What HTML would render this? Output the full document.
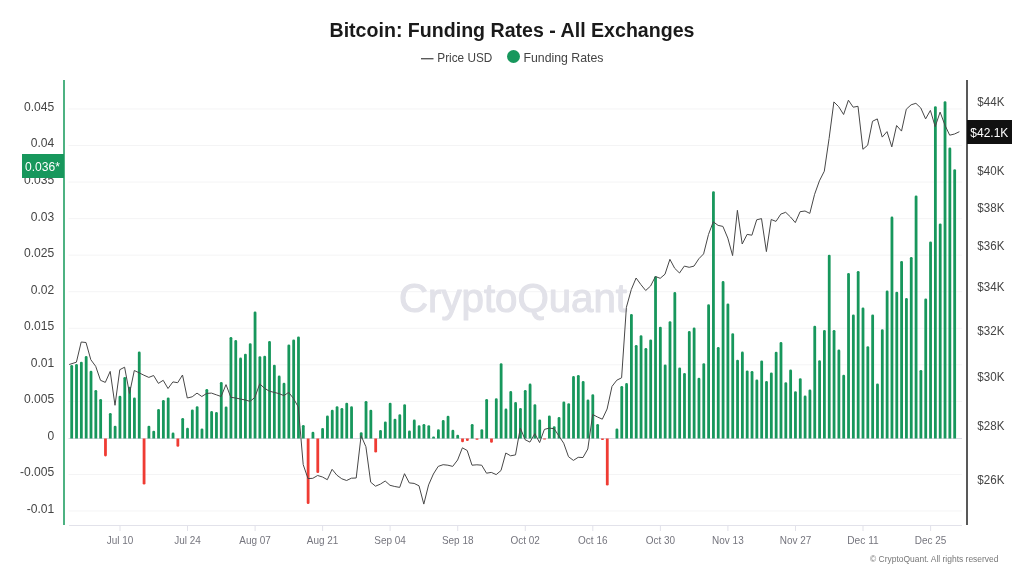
<!DOCTYPE html>
<html><head><meta charset="utf-8"><style>
html,body{margin:0;padding:0;background:#fff;width:1024px;height:576px;overflow:hidden}
svg{display:block;will-change:transform}
</style></head><body>
<svg width="1024" height="576" viewBox="0 0 1024 576">
<line x1="68.5" y1="108.99" x2="962" y2="108.99" stroke="#f4f4f5" stroke-width="1"/>
<line x1="68.5" y1="145.54" x2="962" y2="145.54" stroke="#f4f4f5" stroke-width="1"/>
<line x1="68.5" y1="182.08" x2="962" y2="182.08" stroke="#f4f4f5" stroke-width="1"/>
<line x1="68.5" y1="218.63" x2="962" y2="218.63" stroke="#f4f4f5" stroke-width="1"/>
<line x1="68.5" y1="255.17" x2="962" y2="255.17" stroke="#f4f4f5" stroke-width="1"/>
<line x1="68.5" y1="291.72" x2="962" y2="291.72" stroke="#f4f4f5" stroke-width="1"/>
<line x1="68.5" y1="328.26" x2="962" y2="328.26" stroke="#f4f4f5" stroke-width="1"/>
<line x1="68.5" y1="364.81" x2="962" y2="364.81" stroke="#f4f4f5" stroke-width="1"/>
<line x1="68.5" y1="401.35" x2="962" y2="401.35" stroke="#f4f4f5" stroke-width="1"/>
<line x1="68.5" y1="474.44" x2="962" y2="474.44" stroke="#f4f4f5" stroke-width="1"/>
<line x1="68.5" y1="510.99" x2="962" y2="510.99" stroke="#f4f4f5" stroke-width="1"/>
<text x="399" y="312.3" font-size="40" fill="#e2e2e9" stroke="#e2e2e9" stroke-width="1.1" stroke-linejoin="round" textLength="228" lengthAdjust="spacingAndGlyphs" style="font-family:'Liberation Sans',sans-serif">CryptoQuant</text>
<line x1="68.5" y1="438.5" x2="962" y2="438.5" stroke="#d9d9e3" stroke-width="1"/>
<path d="M70.30 438.50V366.20Q70.30 364.90 71.60 364.90H71.80Q73.10 364.90 73.10 366.20V438.50Z" fill="#17975c"/>
<path d="M75.12 438.50V365.30Q75.12 364.00 76.42 364.00H76.62Q77.92 364.00 77.92 365.30V438.50Z" fill="#17975c"/>
<path d="M79.95 438.50V363.10Q79.95 361.80 81.25 361.80H81.45Q82.75 361.80 82.75 363.10V438.50Z" fill="#17975c"/>
<path d="M84.78 438.50V357.40Q84.78 356.10 86.08 356.10H86.28Q87.58 356.10 87.58 357.40V438.50Z" fill="#17975c"/>
<path d="M89.60 438.50V372.10Q89.60 370.80 90.90 370.80H91.10Q92.40 370.80 92.40 372.10V438.50Z" fill="#17975c"/>
<path d="M94.42 438.50V391.20Q94.42 389.90 95.72 389.90H95.92Q97.22 389.90 97.22 391.20V438.50Z" fill="#17975c"/>
<path d="M99.25 438.50V400.30Q99.25 399.00 100.55 399.00H100.75Q102.05 399.00 102.05 400.30V438.50Z" fill="#17975c"/>
<path d="M104.07 438.50V455.10Q104.07 456.40 105.37 456.40H105.57Q106.87 456.40 106.87 455.10V438.50Z" fill="#ef3b33"/>
<path d="M108.90 438.50V414.30Q108.90 413.00 110.20 413.00H110.40Q111.70 413.00 111.70 414.30V438.50Z" fill="#17975c"/>
<path d="M113.72 438.50V427.10Q113.72 425.80 115.02 425.80H115.22Q116.52 425.80 116.52 427.10V438.50Z" fill="#17975c"/>
<path d="M118.55 438.50V397.00Q118.55 395.70 119.85 395.70H120.05Q121.35 395.70 121.35 397.00V438.50Z" fill="#17975c"/>
<path d="M123.38 438.50V378.30Q123.38 377.00 124.67 377.00H124.88Q126.17 377.00 126.17 378.30V438.50Z" fill="#17975c"/>
<path d="M128.20 438.50V388.10Q128.20 386.80 129.50 386.80H129.70Q131.00 386.80 131.00 388.10V438.50Z" fill="#17975c"/>
<path d="M133.03 438.50V398.80Q133.03 397.50 134.33 397.50H134.53Q135.83 397.50 135.83 398.80V438.50Z" fill="#17975c"/>
<path d="M137.85 438.50V352.80Q137.85 351.50 139.15 351.50H139.35Q140.65 351.50 140.65 352.80V438.50Z" fill="#17975c"/>
<path d="M142.67 438.50V483.30Q142.67 484.60 143.97 484.60H144.17Q145.47 484.60 145.47 483.30V438.50Z" fill="#ef3b33"/>
<path d="M147.50 438.50V427.10Q147.50 425.80 148.80 425.80H149.00Q150.30 425.80 150.30 427.10V438.50Z" fill="#17975c"/>
<path d="M152.33 438.50V432.10Q152.33 430.80 153.63 430.80H153.83Q155.13 430.80 155.13 432.10V438.50Z" fill="#17975c"/>
<path d="M157.15 438.50V410.30Q157.15 409.00 158.45 409.00H158.65Q159.95 409.00 159.95 410.30V438.50Z" fill="#17975c"/>
<path d="M161.97 438.50V401.20Q161.97 399.90 163.28 399.90H163.47Q164.78 399.90 164.78 401.20V438.50Z" fill="#17975c"/>
<path d="M166.80 438.50V398.80Q166.80 397.50 168.10 397.50H168.30Q169.60 397.50 169.60 398.80V438.50Z" fill="#17975c"/>
<path d="M171.62 438.50V433.90Q171.62 432.60 172.93 432.60H173.12Q174.43 432.60 174.43 433.90V438.50Z" fill="#17975c"/>
<path d="M176.45 438.50V445.40Q176.45 446.70 177.75 446.70H177.95Q179.25 446.70 179.25 445.40V438.50Z" fill="#ef3b33"/>
<path d="M181.28 438.50V419.20Q181.28 417.90 182.58 417.90H182.78Q184.08 417.90 184.08 419.20V438.50Z" fill="#17975c"/>
<path d="M186.10 438.50V429.00Q186.10 427.70 187.40 427.70H187.60Q188.90 427.70 188.90 429.00V438.50Z" fill="#17975c"/>
<path d="M190.92 438.50V410.70Q190.92 409.40 192.22 409.40H192.42Q193.72 409.40 193.72 410.70V438.50Z" fill="#17975c"/>
<path d="M195.75 438.50V407.60Q195.75 406.30 197.05 406.30H197.25Q198.55 406.30 198.55 407.60V438.50Z" fill="#17975c"/>
<path d="M200.58 438.50V429.70Q200.58 428.40 201.88 428.40H202.08Q203.38 428.40 203.38 429.70V438.50Z" fill="#17975c"/>
<path d="M205.40 438.50V390.30Q205.40 389.00 206.70 389.00H206.90Q208.20 389.00 208.20 390.30V438.50Z" fill="#17975c"/>
<path d="M210.22 438.50V412.40Q210.22 411.10 211.53 411.10H211.72Q213.03 411.10 213.03 412.40V438.50Z" fill="#17975c"/>
<path d="M215.05 438.50V413.20Q215.05 411.90 216.35 411.90H216.55Q217.85 411.90 217.85 413.20V438.50Z" fill="#17975c"/>
<path d="M219.88 438.50V383.20Q219.88 381.90 221.18 381.90H221.38Q222.68 381.90 222.68 383.20V438.50Z" fill="#17975c"/>
<path d="M224.70 438.50V407.80Q224.70 406.50 226.00 406.50H226.20Q227.50 406.50 227.50 407.80V438.50Z" fill="#17975c"/>
<path d="M229.53 438.50V338.30Q229.53 337.00 230.83 337.00H231.03Q232.33 337.00 232.33 338.30V438.50Z" fill="#17975c"/>
<path d="M234.35 438.50V341.40Q234.35 340.10 235.65 340.10H235.85Q237.15 340.10 237.15 341.40V438.50Z" fill="#17975c"/>
<path d="M239.17 438.50V358.90Q239.17 357.60 240.47 357.60H240.67Q241.97 357.60 241.97 358.90V438.50Z" fill="#17975c"/>
<path d="M244.00 438.50V355.00Q244.00 353.70 245.30 353.70H245.50Q246.80 353.70 246.80 355.00V438.50Z" fill="#17975c"/>
<path d="M248.83 438.50V344.60Q248.83 343.30 250.13 343.30H250.33Q251.63 343.30 251.63 344.60V438.50Z" fill="#17975c"/>
<path d="M253.65 438.50V312.70Q253.65 311.40 254.95 311.40H255.15Q256.45 311.40 256.45 312.70V438.50Z" fill="#17975c"/>
<path d="M258.48 438.50V357.50Q258.48 356.20 259.78 356.20H259.98Q261.28 356.20 261.28 357.50V438.50Z" fill="#17975c"/>
<path d="M263.30 438.50V357.00Q263.30 355.70 264.60 355.70H264.80Q266.10 355.70 266.10 357.00V438.50Z" fill="#17975c"/>
<path d="M268.13 438.50V342.20Q268.13 340.90 269.43 340.90H269.63Q270.93 340.90 270.93 342.20V438.50Z" fill="#17975c"/>
<path d="M272.95 438.50V366.00Q272.95 364.70 274.25 364.70H274.45Q275.75 364.70 275.75 366.00V438.50Z" fill="#17975c"/>
<path d="M277.78 438.50V376.90Q277.78 375.60 279.08 375.60H279.28Q280.58 375.60 280.58 376.90V438.50Z" fill="#17975c"/>
<path d="M282.60 438.50V384.00Q282.60 382.70 283.90 382.70H284.10Q285.40 382.70 285.40 384.00V438.50Z" fill="#17975c"/>
<path d="M287.43 438.50V345.80Q287.43 344.50 288.73 344.50H288.93Q290.23 344.50 290.23 345.80V438.50Z" fill="#17975c"/>
<path d="M292.25 438.50V340.70Q292.25 339.40 293.55 339.40H293.75Q295.05 339.40 295.05 340.70V438.50Z" fill="#17975c"/>
<path d="M297.08 438.50V337.80Q297.08 336.50 298.38 336.50H298.58Q299.88 336.50 299.88 337.80V438.50Z" fill="#17975c"/>
<path d="M301.90 438.50V426.30Q301.90 425.00 303.20 425.00H303.40Q304.70 425.00 304.70 426.30V438.50Z" fill="#17975c"/>
<path d="M306.73 438.50V502.80Q306.73 504.10 308.03 504.10H308.23Q309.53 504.10 309.53 502.80V438.50Z" fill="#ef3b33"/>
<path d="M311.55 438.50V433.00Q311.55 431.70 312.85 431.70H313.05Q314.35 431.70 314.35 433.00V438.50Z" fill="#17975c"/>
<path d="M316.38 438.50V471.70Q316.38 473.00 317.68 473.00H317.88Q319.18 473.00 319.18 471.70V438.50Z" fill="#ef3b33"/>
<path d="M321.20 438.50V429.40Q321.20 428.10 322.50 428.10H322.70Q324.00 428.10 324.00 429.40V438.50Z" fill="#17975c"/>
<path d="M326.03 438.50V416.70Q326.03 415.40 327.33 415.40H327.53Q328.83 415.40 328.83 416.70V438.50Z" fill="#17975c"/>
<path d="M330.85 438.50V411.10Q330.85 409.80 332.15 409.80H332.35Q333.65 409.80 333.65 411.10V438.50Z" fill="#17975c"/>
<path d="M335.68 438.50V407.50Q335.68 406.20 336.98 406.20H337.18Q338.48 406.20 338.48 407.50V438.50Z" fill="#17975c"/>
<path d="M340.50 438.50V409.20Q340.50 407.90 341.80 407.90H342.00Q343.30 407.90 343.30 409.20V438.50Z" fill="#17975c"/>
<path d="M345.33 438.50V404.10Q345.33 402.80 346.63 402.80H346.83Q348.13 402.80 348.13 404.10V438.50Z" fill="#17975c"/>
<path d="M350.15 438.50V407.50Q350.15 406.20 351.45 406.20H351.65Q352.95 406.20 352.95 407.50V438.50Z" fill="#17975c"/>
<path d="M359.80 438.50V433.50Q359.80 432.20 361.10 432.20H361.30Q362.60 432.20 362.60 433.50V438.50Z" fill="#17975c"/>
<path d="M364.62 438.50V402.20Q364.62 400.90 365.93 400.90H366.12Q367.43 400.90 367.43 402.20V438.50Z" fill="#17975c"/>
<path d="M369.45 438.50V411.10Q369.45 409.80 370.75 409.80H370.95Q372.25 409.80 372.25 411.10V438.50Z" fill="#17975c"/>
<path d="M374.28 438.50V451.20Q374.28 452.50 375.58 452.50H375.78Q377.08 452.50 377.08 451.20V438.50Z" fill="#ef3b33"/>
<path d="M379.10 438.50V431.30Q379.10 430.00 380.40 430.00H380.60Q381.90 430.00 381.90 431.30V438.50Z" fill="#17975c"/>
<path d="M383.93 438.50V422.80Q383.93 421.50 385.23 421.50H385.43Q386.73 421.50 386.73 422.80V438.50Z" fill="#17975c"/>
<path d="M388.75 438.50V404.10Q388.75 402.80 390.05 402.80H390.25Q391.55 402.80 391.55 404.10V438.50Z" fill="#17975c"/>
<path d="M393.58 438.50V420.10Q393.58 418.80 394.88 418.80H395.08Q396.38 418.80 396.38 420.10V438.50Z" fill="#17975c"/>
<path d="M398.40 438.50V415.50Q398.40 414.20 399.70 414.20H399.90Q401.20 414.20 401.20 415.50V438.50Z" fill="#17975c"/>
<path d="M403.23 438.50V405.60Q403.23 404.30 404.53 404.30H404.73Q406.03 404.30 406.03 405.60V438.50Z" fill="#17975c"/>
<path d="M408.05 438.50V431.80Q408.05 430.50 409.35 430.50H409.55Q410.85 430.50 410.85 431.80V438.50Z" fill="#17975c"/>
<path d="M412.88 438.50V420.90Q412.88 419.60 414.18 419.60H414.38Q415.68 419.60 415.68 420.90V438.50Z" fill="#17975c"/>
<path d="M417.70 438.50V426.50Q417.70 425.20 419.00 425.20H419.20Q420.50 425.20 420.50 426.50V438.50Z" fill="#17975c"/>
<path d="M422.53 438.50V425.30Q422.53 424.00 423.83 424.00H424.03Q425.33 424.00 425.33 425.30V438.50Z" fill="#17975c"/>
<path d="M427.35 438.50V426.50Q427.35 425.20 428.65 425.20H428.85Q430.15 425.20 430.15 426.50V438.50Z" fill="#17975c"/>
<path d="M432.18 438.50V437.45Q432.18 436.40 433.23 436.40H433.93Q434.98 436.40 434.98 437.45V438.50Z" fill="#17975c"/>
<path d="M437.00 438.50V430.60Q437.00 429.30 438.30 429.30H438.50Q439.80 429.30 439.80 430.60V438.50Z" fill="#17975c"/>
<path d="M441.83 438.50V421.40Q441.83 420.10 443.13 420.10H443.33Q444.63 420.10 444.63 421.40V438.50Z" fill="#17975c"/>
<path d="M446.65 438.50V417.00Q446.65 415.70 447.95 415.70H448.15Q449.45 415.70 449.45 417.00V438.50Z" fill="#17975c"/>
<path d="M451.48 438.50V431.10Q451.48 429.80 452.78 429.80H452.98Q454.28 429.80 454.28 431.10V438.50Z" fill="#17975c"/>
<path d="M456.30 438.50V436.00Q456.30 434.70 457.60 434.70H457.80Q459.10 434.70 459.10 436.00V438.50Z" fill="#17975c"/>
<path d="M461.12 438.50V440.90Q461.12 442.20 462.43 442.20H462.62Q463.93 442.20 463.93 440.90V438.50Z" fill="#ef3b33"/>
<path d="M465.95 438.50V439.75Q465.95 441.00 467.20 441.00H467.50Q468.75 441.00 468.75 439.75V438.50Z" fill="#ef3b33"/>
<path d="M470.78 438.50V425.30Q470.78 424.00 472.08 424.00H472.28Q473.58 424.00 473.58 425.30V438.50Z" fill="#17975c"/>
<path d="M475.60 438.50V439.15Q475.60 439.80 476.25 439.80H477.75Q478.40 439.80 478.40 439.15V438.50Z" fill="#ef3b33"/>
<path d="M480.43 438.50V430.60Q480.43 429.30 481.73 429.30H481.93Q483.23 429.30 483.23 430.60V438.50Z" fill="#17975c"/>
<path d="M485.25 438.50V400.20Q485.25 398.90 486.55 398.90H486.75Q488.05 398.90 488.05 400.20V438.50Z" fill="#17975c"/>
<path d="M490.08 438.50V441.40Q490.08 442.70 491.38 442.70H491.58Q492.88 442.70 492.88 441.40V438.50Z" fill="#ef3b33"/>
<path d="M494.90 438.50V399.50Q494.90 398.20 496.20 398.20H496.40Q497.70 398.20 497.70 399.50V438.50Z" fill="#17975c"/>
<path d="M499.73 438.50V364.50Q499.73 363.20 501.03 363.20H501.23Q502.53 363.20 502.53 364.50V438.50Z" fill="#17975c"/>
<path d="M504.55 438.50V409.90Q504.55 408.60 505.85 408.60H506.05Q507.35 408.60 507.35 409.90V438.50Z" fill="#17975c"/>
<path d="M509.38 438.50V392.40Q509.38 391.10 510.68 391.10H510.87Q512.17 391.10 512.17 392.40V438.50Z" fill="#17975c"/>
<path d="M514.20 438.50V403.40Q514.20 402.10 515.50 402.10H515.70Q517.00 402.10 517.00 403.40V438.50Z" fill="#17975c"/>
<path d="M519.03 438.50V409.20Q519.03 407.90 520.33 407.90H520.53Q521.83 407.90 521.83 409.20V438.50Z" fill="#17975c"/>
<path d="M523.85 438.50V391.20Q523.85 389.90 525.15 389.90H525.35Q526.65 389.90 526.65 391.20V438.50Z" fill="#17975c"/>
<path d="M528.68 438.50V384.90Q528.68 383.60 529.98 383.60H530.18Q531.48 383.60 531.48 384.90V438.50Z" fill="#17975c"/>
<path d="M533.50 438.50V405.60Q533.50 404.30 534.80 404.30H535.00Q536.30 404.30 536.30 405.60V438.50Z" fill="#17975c"/>
<path d="M538.33 438.50V420.70Q538.33 419.40 539.62 419.40H539.83Q541.12 419.40 541.12 420.70V438.50Z" fill="#17975c"/>
<path d="M543.15 438.50V439.00Q543.15 439.50 543.65 439.50H545.45Q545.95 439.50 545.95 439.00V438.50Z" fill="#ef3b33"/>
<path d="M547.98 438.50V416.80Q547.98 415.50 549.27 415.50H549.48Q550.77 415.50 550.77 416.80V438.50Z" fill="#17975c"/>
<path d="M552.80 438.50V427.60Q552.80 426.30 554.10 426.30H554.30Q555.60 426.30 555.60 427.60V438.50Z" fill="#17975c"/>
<path d="M557.63 438.50V418.40Q557.63 417.10 558.93 417.10H559.13Q560.43 417.10 560.43 418.40V438.50Z" fill="#17975c"/>
<path d="M562.45 438.50V402.80Q562.45 401.50 563.75 401.50H563.95Q565.25 401.50 565.25 402.80V438.50Z" fill="#17975c"/>
<path d="M567.28 438.50V404.60Q567.28 403.30 568.58 403.30H568.78Q570.08 403.30 570.08 404.60V438.50Z" fill="#17975c"/>
<path d="M572.10 438.50V377.40Q572.10 376.10 573.40 376.10H573.60Q574.90 376.10 574.90 377.40V438.50Z" fill="#17975c"/>
<path d="M576.93 438.50V376.20Q576.93 374.90 578.23 374.90H578.43Q579.73 374.90 579.73 376.20V438.50Z" fill="#17975c"/>
<path d="M581.75 438.50V382.40Q581.75 381.10 583.05 381.10H583.25Q584.55 381.10 584.55 382.40V438.50Z" fill="#17975c"/>
<path d="M586.58 438.50V400.90Q586.58 399.60 587.88 399.60H588.08Q589.38 399.60 589.38 400.90V438.50Z" fill="#17975c"/>
<path d="M591.40 438.50V395.60Q591.40 394.30 592.70 394.30H592.90Q594.20 394.30 594.20 395.60V438.50Z" fill="#17975c"/>
<path d="M596.23 438.50V425.30Q596.23 424.00 597.53 424.00H597.73Q599.03 424.00 599.03 425.30V438.50Z" fill="#17975c"/>
<path d="M601.05 438.50V439.25Q601.05 440.00 601.80 440.00H603.10Q603.85 440.00 603.85 439.25V438.50Z" fill="#ef3b33"/>
<path d="M605.88 438.50V484.30Q605.88 485.60 607.18 485.60H607.38Q608.68 485.60 608.68 484.30V438.50Z" fill="#ef3b33"/>
<path d="M615.53 438.50V429.70Q615.53 428.40 616.83 428.40H617.03Q618.33 428.40 618.33 429.70V438.50Z" fill="#17975c"/>
<path d="M620.35 438.50V387.30Q620.35 386.00 621.65 386.00H621.85Q623.15 386.00 623.15 387.30V438.50Z" fill="#17975c"/>
<path d="M625.18 438.50V384.40Q625.18 383.10 626.48 383.10H626.68Q627.98 383.10 627.98 384.40V438.50Z" fill="#17975c"/>
<path d="M630.00 438.50V315.20Q630.00 313.90 631.30 313.90H631.50Q632.80 313.90 632.80 315.20V438.50Z" fill="#17975c"/>
<path d="M634.83 438.50V346.30Q634.83 345.00 636.12 345.00H636.33Q637.62 345.00 637.62 346.30V438.50Z" fill="#17975c"/>
<path d="M639.65 438.50V336.60Q639.65 335.30 640.95 335.30H641.15Q642.45 335.30 642.45 336.60V438.50Z" fill="#17975c"/>
<path d="M644.48 438.50V349.20Q644.48 347.90 645.78 347.90H645.98Q647.28 347.90 647.28 349.20V438.50Z" fill="#17975c"/>
<path d="M649.30 438.50V340.70Q649.30 339.40 650.60 339.40H650.80Q652.10 339.40 652.10 340.70V438.50Z" fill="#17975c"/>
<path d="M654.13 438.50V277.60Q654.13 276.30 655.43 276.30H655.63Q656.93 276.30 656.93 277.60V438.50Z" fill="#17975c"/>
<path d="M658.95 438.50V328.00Q658.95 326.70 660.25 326.70H660.45Q661.75 326.70 661.75 328.00V438.50Z" fill="#17975c"/>
<path d="M663.78 438.50V365.70Q663.78 364.40 665.08 364.40H665.28Q666.58 364.40 666.58 365.70V438.50Z" fill="#17975c"/>
<path d="M668.60 438.50V322.50Q668.60 321.20 669.90 321.20H670.10Q671.40 321.20 671.40 322.50V438.50Z" fill="#17975c"/>
<path d="M673.43 438.50V293.40Q673.43 292.10 674.73 292.10H674.93Q676.23 292.10 676.23 293.40V438.50Z" fill="#17975c"/>
<path d="M678.25 438.50V368.70Q678.25 367.40 679.55 367.40H679.75Q681.05 367.40 681.05 368.70V438.50Z" fill="#17975c"/>
<path d="M683.08 438.50V374.30Q683.08 373.00 684.38 373.00H684.58Q685.88 373.00 685.88 374.30V438.50Z" fill="#17975c"/>
<path d="M687.90 438.50V332.40Q687.90 331.10 689.20 331.10H689.40Q690.70 331.10 690.70 332.40V438.50Z" fill="#17975c"/>
<path d="M692.73 438.50V328.80Q692.73 327.50 694.03 327.50H694.23Q695.53 327.50 695.53 328.80V438.50Z" fill="#17975c"/>
<path d="M697.55 438.50V379.10Q697.55 377.80 698.85 377.80H699.05Q700.35 377.80 700.35 379.10V438.50Z" fill="#17975c"/>
<path d="M702.38 438.50V364.50Q702.38 363.20 703.68 363.20H703.88Q705.18 363.20 705.18 364.50V438.50Z" fill="#17975c"/>
<path d="M707.20 438.50V305.50Q707.20 304.20 708.50 304.20H708.70Q710.00 304.20 710.00 305.50V438.50Z" fill="#17975c"/>
<path d="M712.03 438.50V192.50Q712.03 191.20 713.33 191.20H713.53Q714.83 191.20 714.83 192.50V438.50Z" fill="#17975c"/>
<path d="M716.85 438.50V348.20Q716.85 346.90 718.15 346.90H718.35Q719.65 346.90 719.65 348.20V438.50Z" fill="#17975c"/>
<path d="M721.68 438.50V282.40Q721.68 281.10 722.98 281.10H723.18Q724.48 281.10 724.48 282.40V438.50Z" fill="#17975c"/>
<path d="M726.50 438.50V304.70Q726.50 303.40 727.80 303.40H728.00Q729.30 303.40 729.30 304.70V438.50Z" fill="#17975c"/>
<path d="M731.33 438.50V334.60Q731.33 333.30 732.62 333.30H732.83Q734.12 333.30 734.12 334.60V438.50Z" fill="#17975c"/>
<path d="M736.15 438.50V361.10Q736.15 359.80 737.45 359.80H737.65Q738.95 359.80 738.95 361.10V438.50Z" fill="#17975c"/>
<path d="M740.98 438.50V352.90Q740.98 351.60 742.28 351.60H742.48Q743.78 351.60 743.78 352.90V438.50Z" fill="#17975c"/>
<path d="M745.80 438.50V371.80Q745.80 370.50 747.10 370.50H747.30Q748.60 370.50 748.60 371.80V438.50Z" fill="#17975c"/>
<path d="M750.63 438.50V372.30Q750.63 371.00 751.93 371.00H752.13Q753.43 371.00 753.43 372.30V438.50Z" fill="#17975c"/>
<path d="M755.45 438.50V380.80Q755.45 379.50 756.75 379.50H756.95Q758.25 379.50 758.25 380.80V438.50Z" fill="#17975c"/>
<path d="M760.28 438.50V361.80Q760.28 360.50 761.58 360.50H761.78Q763.08 360.50 763.08 361.80V438.50Z" fill="#17975c"/>
<path d="M765.10 438.50V382.30Q765.10 381.00 766.40 381.00H766.60Q767.90 381.00 767.90 382.30V438.50Z" fill="#17975c"/>
<path d="M769.93 438.50V373.80Q769.93 372.50 771.23 372.50H771.43Q772.73 372.50 772.73 373.80V438.50Z" fill="#17975c"/>
<path d="M774.75 438.50V353.10Q774.75 351.80 776.05 351.80H776.25Q777.55 351.80 777.55 353.10V438.50Z" fill="#17975c"/>
<path d="M779.58 438.50V343.40Q779.58 342.10 780.88 342.10H781.08Q782.38 342.10 782.38 343.40V438.50Z" fill="#17975c"/>
<path d="M784.40 438.50V383.50Q784.40 382.20 785.70 382.20H785.90Q787.20 382.20 787.20 383.50V438.50Z" fill="#17975c"/>
<path d="M789.23 438.50V370.80Q789.23 369.50 790.53 369.50H790.73Q792.03 369.50 792.03 370.80V438.50Z" fill="#17975c"/>
<path d="M794.05 438.50V392.50Q794.05 391.20 795.35 391.20H795.55Q796.85 391.20 796.85 392.50V438.50Z" fill="#17975c"/>
<path d="M798.88 438.50V379.60Q798.88 378.30 800.18 378.30H800.38Q801.68 378.30 801.68 379.60V438.50Z" fill="#17975c"/>
<path d="M803.70 438.50V396.90Q803.70 395.60 805.00 395.60H805.20Q806.50 395.60 806.50 396.90V438.50Z" fill="#17975c"/>
<path d="M808.53 438.50V390.80Q808.53 389.50 809.83 389.50H810.03Q811.33 389.50 811.33 390.80V438.50Z" fill="#17975c"/>
<path d="M813.35 438.50V327.00Q813.35 325.70 814.65 325.70H814.85Q816.15 325.70 816.15 327.00V438.50Z" fill="#17975c"/>
<path d="M818.18 438.50V361.60Q818.18 360.30 819.48 360.30H819.68Q820.98 360.30 820.98 361.60V438.50Z" fill="#17975c"/>
<path d="M823.00 438.50V331.20Q823.00 329.90 824.30 329.90H824.50Q825.80 329.90 825.80 331.20V438.50Z" fill="#17975c"/>
<path d="M827.83 438.50V256.00Q827.83 254.70 829.12 254.70H829.33Q830.62 254.70 830.62 256.00V438.50Z" fill="#17975c"/>
<path d="M832.65 438.50V331.20Q832.65 329.90 833.95 329.90H834.15Q835.45 329.90 835.45 331.20V438.50Z" fill="#17975c"/>
<path d="M837.48 438.50V350.70Q837.48 349.40 838.78 349.40H838.98Q840.28 349.40 840.28 350.70V438.50Z" fill="#17975c"/>
<path d="M842.30 438.50V376.00Q842.30 374.70 843.60 374.70H843.80Q845.10 374.70 845.10 376.00V438.50Z" fill="#17975c"/>
<path d="M847.13 438.50V274.30Q847.13 273.00 848.43 273.00H848.63Q849.93 273.00 849.93 274.30V438.50Z" fill="#17975c"/>
<path d="M851.95 438.50V315.80Q851.95 314.50 853.25 314.50H853.45Q854.75 314.50 854.75 315.80V438.50Z" fill="#17975c"/>
<path d="M856.78 438.50V272.30Q856.78 271.00 858.08 271.00H858.28Q859.58 271.00 859.58 272.30V438.50Z" fill="#17975c"/>
<path d="M861.60 438.50V308.70Q861.60 307.40 862.90 307.40H863.10Q864.40 307.40 864.40 308.70V438.50Z" fill="#17975c"/>
<path d="M866.43 438.50V347.50Q866.43 346.20 867.73 346.20H867.93Q869.23 346.20 869.23 347.50V438.50Z" fill="#17975c"/>
<path d="M871.25 438.50V315.80Q871.25 314.50 872.55 314.50H872.75Q874.05 314.50 874.05 315.80V438.50Z" fill="#17975c"/>
<path d="M876.08 438.50V384.70Q876.08 383.40 877.38 383.40H877.58Q878.88 383.40 878.88 384.70V438.50Z" fill="#17975c"/>
<path d="M880.90 438.50V330.60Q880.90 329.30 882.20 329.30H882.40Q883.70 329.30 883.70 330.60V438.50Z" fill="#17975c"/>
<path d="M885.73 438.50V291.80Q885.73 290.50 887.03 290.50H887.23Q888.53 290.50 888.53 291.80V438.50Z" fill="#17975c"/>
<path d="M890.55 438.50V217.90Q890.55 216.60 891.85 216.60H892.05Q893.35 216.60 893.35 217.90V438.50Z" fill="#17975c"/>
<path d="M895.38 438.50V293.00Q895.38 291.70 896.68 291.70H896.88Q898.18 291.70 898.18 293.00V438.50Z" fill="#17975c"/>
<path d="M900.20 438.50V262.20Q900.20 260.90 901.50 260.90H901.70Q903.00 260.90 903.00 262.20V438.50Z" fill="#17975c"/>
<path d="M905.03 438.50V299.30Q905.03 298.00 906.33 298.00H906.53Q907.83 298.00 907.83 299.30V438.50Z" fill="#17975c"/>
<path d="M909.85 438.50V258.30Q909.85 257.00 911.15 257.00H911.35Q912.65 257.00 912.65 258.30V438.50Z" fill="#17975c"/>
<path d="M914.68 438.50V196.80Q914.68 195.50 915.98 195.50H916.18Q917.48 195.50 917.48 196.80V438.50Z" fill="#17975c"/>
<path d="M919.50 438.50V371.30Q919.50 370.00 920.80 370.00H921.00Q922.30 370.00 922.30 371.30V438.50Z" fill="#17975c"/>
<path d="M924.33 438.50V299.70Q924.33 298.40 925.62 298.40H925.83Q927.12 298.40 927.12 299.70V438.50Z" fill="#17975c"/>
<path d="M929.15 438.50V242.80Q929.15 241.50 930.45 241.50H930.65Q931.95 241.50 931.95 242.80V438.50Z" fill="#17975c"/>
<path d="M933.98 438.50V107.60Q933.98 106.30 935.28 106.30H935.48Q936.78 106.30 936.78 107.60V438.50Z" fill="#17975c"/>
<path d="M938.80 438.50V224.80Q938.80 223.50 940.10 223.50H940.30Q941.60 223.50 941.60 224.80V438.50Z" fill="#17975c"/>
<path d="M943.63 438.50V102.60Q943.63 101.30 944.93 101.30H945.13Q946.43 101.30 946.43 102.60V438.50Z" fill="#17975c"/>
<path d="M948.45 438.50V148.80Q948.45 147.50 949.75 147.50H949.95Q951.25 147.50 951.25 148.80V438.50Z" fill="#17975c"/>
<path d="M953.28 438.50V170.60Q953.28 169.30 954.58 169.30H954.78Q956.08 169.30 956.08 170.60V438.50Z" fill="#17975c"/>
<polyline points="69.2,364.5 76.4,362.2 81.2,342.0 86.0,342.5 90.8,359.7 95.7,366.3 100.5,380.3 105.3,382.4 110.2,371.4 115.0,405.3 119.8,369.7 124.6,367.2 129.5,393.5 134.3,370.5 139.1,372.8 143.9,375.2 148.8,377.4 153.6,375.5 158.4,383.4 163.2,380.3 168.0,388.5 172.9,381.9 177.7,382.7 182.5,375.0 187.3,398.0 192.2,396.8 197.0,393.1 201.8,396.5 206.7,393.4 211.5,393.1 216.3,394.8 221.1,396.5 226.0,384.6 230.8,397.3 235.6,398.0 240.4,399.0 245.3,400.0 250.1,401.4 254.9,397.3 259.7,383.9 264.6,388.3 269.4,391.2 274.2,392.4 279.0,393.6 283.9,395.6 288.7,392.4 293.5,398.5 298.3,407.0 303.2,464.6 308.0,478.6 312.8,478.3 317.6,475.5 322.5,477.0 327.3,479.7 332.1,469.3 336.9,475.2 341.8,478.8 346.6,480.5 351.4,478.2 356.2,478.0 361.1,435.7 365.9,446.7 370.7,482.2 375.5,486.2 380.4,484.1 385.2,481.0 390.0,485.3 394.8,486.5 399.7,487.4 404.5,473.7 409.3,482.9 414.1,483.4 419.0,485.8 423.8,504.1 428.6,484.9 433.4,474.0 438.2,466.4 443.1,464.7 447.9,465.2 452.7,466.4 457.6,460.0 462.4,447.8 467.2,450.5 472.0,465.2 476.9,464.8 481.7,465.2 486.5,473.2 491.3,472.4 496.2,474.6 501.0,470.5 505.8,453.0 510.6,455.8 515.5,454.9 520.3,428.0 525.1,439.7 529.9,442.1 534.8,433.7 539.6,442.6 544.4,429.4 549.2,428.1 554.1,428.7 558.9,436.0 563.7,443.2 568.5,456.7 573.4,460.4 578.2,457.3 583.0,457.5 587.8,449.0 592.7,414.5 597.5,417.0 602.3,419.2 607.1,409.0 612.0,386.4 616.8,380.2 621.6,377.8 626.4,307.3 631.3,289.5 636.1,278.0 640.9,284.6 645.7,290.5 650.6,286.0 655.4,276.5 660.2,278.3 665.0,274.2 669.9,259.3 674.7,268.3 679.5,273.0 684.3,266.1 689.2,267.3 694.0,266.1 698.8,258.8 703.6,253.9 708.5,234.4 713.3,221.8 718.1,225.4 722.9,226.4 727.8,238.1 732.6,255.6 737.4,210.3 742.2,244.0 747.1,234.4 751.9,235.2 756.7,219.8 761.5,218.6 766.4,251.6 771.2,219.5 776.0,221.4 780.8,214.1 785.7,212.3 790.5,217.0 795.3,222.6 800.1,211.7 805.0,211.0 809.8,213.4 814.6,194.3 819.4,180.9 824.3,171.2 829.1,138.4 833.9,101.9 838.7,106.7 843.6,114.5 848.4,100.2 853.2,107.2 858.0,106.3 862.9,149.3 867.7,145.2 872.5,121.3 877.3,118.9 882.2,137.1 887.0,131.6 891.8,146.9 896.6,125.5 901.5,131.1 906.3,109.2 911.1,104.8 915.9,103.3 920.8,108.0 925.6,118.9 930.4,110.4 935.2,126.7 940.1,112.1 944.9,125.0 949.7,135.2 954.5,134.0 959.4,131.7" fill="none" stroke="#474747" stroke-width="1" stroke-linejoin="round"/>
<rect x="63" y="80" width="2" height="445" fill="#4db282"/>
<rect x="966" y="80" width="2" height="445" fill="#595959"/>
<rect x="69" y="525" width="893" height="1" fill="#e2e2ea"/>
<text x="54.3" y="110.9" font-size="13" fill="#444" text-anchor="end" textLength="30.3" lengthAdjust="spacingAndGlyphs" style="font-family:'Liberation Sans',sans-serif">0.045</text>
<text x="54.3" y="147.4" font-size="13" fill="#444" text-anchor="end" textLength="23.5" lengthAdjust="spacingAndGlyphs" style="font-family:'Liberation Sans',sans-serif">0.04</text>
<text x="54.3" y="184.0" font-size="13" fill="#444" text-anchor="end" textLength="30.3" lengthAdjust="spacingAndGlyphs" style="font-family:'Liberation Sans',sans-serif">0.035</text>
<text x="54.3" y="220.5" font-size="13" fill="#444" text-anchor="end" textLength="23.5" lengthAdjust="spacingAndGlyphs" style="font-family:'Liberation Sans',sans-serif">0.03</text>
<text x="54.3" y="257.1" font-size="13" fill="#444" text-anchor="end" textLength="30.3" lengthAdjust="spacingAndGlyphs" style="font-family:'Liberation Sans',sans-serif">0.025</text>
<text x="54.3" y="293.6" font-size="13" fill="#444" text-anchor="end" textLength="23.5" lengthAdjust="spacingAndGlyphs" style="font-family:'Liberation Sans',sans-serif">0.02</text>
<text x="54.3" y="330.2" font-size="13" fill="#444" text-anchor="end" textLength="30.3" lengthAdjust="spacingAndGlyphs" style="font-family:'Liberation Sans',sans-serif">0.015</text>
<text x="54.3" y="366.7" font-size="13" fill="#444" text-anchor="end" textLength="23.5" lengthAdjust="spacingAndGlyphs" style="font-family:'Liberation Sans',sans-serif">0.01</text>
<text x="54.3" y="403.3" font-size="13" fill="#444" text-anchor="end" textLength="30.3" lengthAdjust="spacingAndGlyphs" style="font-family:'Liberation Sans',sans-serif">0.005</text>
<text x="54.3" y="439.8" font-size="13" fill="#444" text-anchor="end" textLength="6.7" lengthAdjust="spacingAndGlyphs" style="font-family:'Liberation Sans',sans-serif">0</text>
<text x="54.3" y="476.3" font-size="13" fill="#444" text-anchor="end" textLength="34.3" lengthAdjust="spacingAndGlyphs" style="font-family:'Liberation Sans',sans-serif">-0.005</text>
<text x="54.3" y="512.9" font-size="13" fill="#444" text-anchor="end" textLength="27.6" lengthAdjust="spacingAndGlyphs" style="font-family:'Liberation Sans',sans-serif">-0.01</text>
<rect x="22" y="154" width="42" height="24" fill="#17975c"/>
<text x="25" y="171.2" font-size="13" fill="#fff" textLength="35.0" lengthAdjust="spacingAndGlyphs" style="font-family:'Liberation Sans',sans-serif">0.036*</text>
<text x="977.3" y="106.4" font-size="12.5" fill="#444" textLength="27.1" lengthAdjust="spacingAndGlyphs" style="font-family:'Liberation Sans',sans-serif">$44K</text>
<text x="977.3" y="174.7" font-size="12.5" fill="#444" textLength="27.1" lengthAdjust="spacingAndGlyphs" style="font-family:'Liberation Sans',sans-serif">$40K</text>
<text x="977.3" y="211.5" font-size="12.5" fill="#444" textLength="27.1" lengthAdjust="spacingAndGlyphs" style="font-family:'Liberation Sans',sans-serif">$38K</text>
<text x="977.3" y="250.3" font-size="12.5" fill="#444" textLength="27.1" lengthAdjust="spacingAndGlyphs" style="font-family:'Liberation Sans',sans-serif">$36K</text>
<text x="977.3" y="291.2" font-size="12.5" fill="#444" textLength="27.1" lengthAdjust="spacingAndGlyphs" style="font-family:'Liberation Sans',sans-serif">$34K</text>
<text x="977.3" y="334.7" font-size="12.5" fill="#444" textLength="27.1" lengthAdjust="spacingAndGlyphs" style="font-family:'Liberation Sans',sans-serif">$32K</text>
<text x="977.3" y="381.0" font-size="12.5" fill="#444" textLength="27.1" lengthAdjust="spacingAndGlyphs" style="font-family:'Liberation Sans',sans-serif">$30K</text>
<text x="977.3" y="430.4" font-size="12.5" fill="#444" textLength="27.1" lengthAdjust="spacingAndGlyphs" style="font-family:'Liberation Sans',sans-serif">$28K</text>
<text x="977.3" y="483.6" font-size="12.5" fill="#444" textLength="27.1" lengthAdjust="spacingAndGlyphs" style="font-family:'Liberation Sans',sans-serif">$26K</text>
<rect x="967" y="120" width="45" height="24" fill="#111"/>
<text x="970.3" y="137.4" font-size="13" fill="#fff" textLength="38" lengthAdjust="spacingAndGlyphs" style="font-family:'Liberation Sans',sans-serif">$42.1K</text>
<rect x="119.5" y="525" width="1" height="6" fill="#e2e2ea"/>
<text x="120.0" y="544" font-size="10.5" fill="#75757e" text-anchor="middle" textLength="26.6" lengthAdjust="spacingAndGlyphs" style="font-family:'Liberation Sans',sans-serif">Jul 10</text>
<rect x="187.0" y="525" width="1" height="6" fill="#e2e2ea"/>
<text x="187.5" y="544" font-size="10.5" fill="#75757e" text-anchor="middle" textLength="26.6" lengthAdjust="spacingAndGlyphs" style="font-family:'Liberation Sans',sans-serif">Jul 24</text>
<rect x="254.6" y="525" width="1" height="6" fill="#e2e2ea"/>
<text x="255.1" y="544" font-size="10.5" fill="#75757e" text-anchor="middle" textLength="31.6" lengthAdjust="spacingAndGlyphs" style="font-family:'Liberation Sans',sans-serif">Aug 07</text>
<rect x="322.1" y="525" width="1" height="6" fill="#e2e2ea"/>
<text x="322.6" y="544" font-size="10.5" fill="#75757e" text-anchor="middle" textLength="31.6" lengthAdjust="spacingAndGlyphs" style="font-family:'Liberation Sans',sans-serif">Aug 21</text>
<rect x="389.6" y="525" width="1" height="6" fill="#e2e2ea"/>
<text x="390.1" y="544" font-size="10.5" fill="#75757e" text-anchor="middle" textLength="31.6" lengthAdjust="spacingAndGlyphs" style="font-family:'Liberation Sans',sans-serif">Sep 04</text>
<rect x="457.2" y="525" width="1" height="6" fill="#e2e2ea"/>
<text x="457.7" y="544" font-size="10.5" fill="#75757e" text-anchor="middle" textLength="31.6" lengthAdjust="spacingAndGlyphs" style="font-family:'Liberation Sans',sans-serif">Sep 18</text>
<rect x="524.8" y="525" width="1" height="6" fill="#e2e2ea"/>
<text x="525.2" y="544" font-size="10.5" fill="#75757e" text-anchor="middle" textLength="29.4" lengthAdjust="spacingAndGlyphs" style="font-family:'Liberation Sans',sans-serif">Oct 02</text>
<rect x="592.3" y="525" width="1" height="6" fill="#e2e2ea"/>
<text x="592.8" y="544" font-size="10.5" fill="#75757e" text-anchor="middle" textLength="29.4" lengthAdjust="spacingAndGlyphs" style="font-family:'Liberation Sans',sans-serif">Oct 16</text>
<rect x="659.9" y="525" width="1" height="6" fill="#e2e2ea"/>
<text x="660.4" y="544" font-size="10.5" fill="#75757e" text-anchor="middle" textLength="29.4" lengthAdjust="spacingAndGlyphs" style="font-family:'Liberation Sans',sans-serif">Oct 30</text>
<rect x="727.4" y="525" width="1" height="6" fill="#e2e2ea"/>
<text x="727.9" y="544" font-size="10.5" fill="#75757e" text-anchor="middle" textLength="31.6" lengthAdjust="spacingAndGlyphs" style="font-family:'Liberation Sans',sans-serif">Nov 13</text>
<rect x="795.0" y="525" width="1" height="6" fill="#e2e2ea"/>
<text x="795.5" y="544" font-size="10.5" fill="#75757e" text-anchor="middle" textLength="31.6" lengthAdjust="spacingAndGlyphs" style="font-family:'Liberation Sans',sans-serif">Nov 27</text>
<rect x="862.5" y="525" width="1" height="6" fill="#e2e2ea"/>
<text x="863.0" y="544" font-size="10.5" fill="#75757e" text-anchor="middle" textLength="31.6" lengthAdjust="spacingAndGlyphs" style="font-family:'Liberation Sans',sans-serif">Dec 11</text>
<rect x="930.1" y="525" width="1" height="6" fill="#e2e2ea"/>
<text x="930.6" y="544" font-size="10.5" fill="#75757e" text-anchor="middle" textLength="31.6" lengthAdjust="spacingAndGlyphs" style="font-family:'Liberation Sans',sans-serif">Dec 25</text>
<text x="512" y="36.8" font-size="20" font-weight="bold" textLength="365" lengthAdjust="spacingAndGlyphs" fill="#1a1a1a" text-anchor="middle" style="font-family:'Liberation Sans',sans-serif">Bitcoin: Funding Rates - All Exchanges</text>
<rect x="421" y="58" width="12.5" height="1.4" fill="#5a5a5a"/>
<text x="437.3" y="61.8" font-size="13" fill="#444" textLength="55" lengthAdjust="spacingAndGlyphs" style="font-family:'Liberation Sans',sans-serif">Price USD</text>
<circle cx="513.5" cy="56.5" r="6.5" fill="#17975c"/>
<text x="523.5" y="61.8" font-size="13" fill="#444" textLength="80" lengthAdjust="spacingAndGlyphs" style="font-family:'Liberation Sans',sans-serif">Funding Rates</text>
<text x="870" y="562" font-size="9.5" fill="#777" textLength="128.5" lengthAdjust="spacingAndGlyphs" style="font-family:'Liberation Sans',sans-serif">© CryptoQuant. All rights reserved</text>
</svg>
</body></html>
